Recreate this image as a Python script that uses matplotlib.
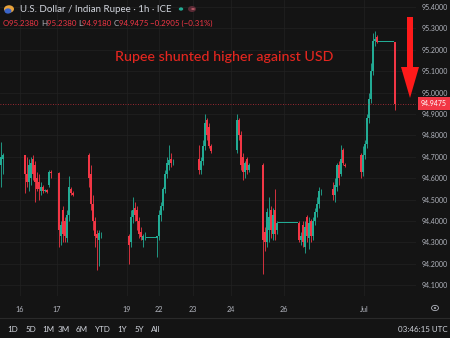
import numpy as np
import matplotlib.pyplot as plt
from matplotlib.patches import Polygon, Rectangle, Circle
from matplotlib.lines import Line2D

plt.rcParams['font.family'] = ['Lato', 'DejaVu Sans']

# hourly USD/INR candles (flat runs = hours with no trades)
opens = ([94.66, 94.69] + [94.708] * 10 +
         [94.708, 94.62, 94.58, 94.60, 94.69, 94.66, 94.60, 94.58, 94.54, 94.56, 94.54, 94.545, 94.57, 94.63] + [94.624] * 3 +
         [94.624, 94.33, 94.45, 94.40, 94.32, 94.43, 94.55, 94.53] + [94.521] * 7 +
         [94.71, 94.62, 94.48, 94.40, 94.34, 94.31, 94.33] + [94.33] * 13 +
         [94.33, 94.30, 94.42, 94.46, 94.45, 94.40, 94.35, 94.31, 94.32] + [94.321] * 5 +
         [94.32, 94.33, 94.43, 94.47, 94.55, 94.62, 94.66, 94.69, 94.67] + [94.671] * 12 +
         [94.69, 94.64, 94.68, 94.75, 94.87, 94.84, 94.75] + [94.727] * 12 +
         [94.73, 94.87, 94.80, 94.70, 94.63, 94.69, 94.64] + [94.662] * 6 +
         [94.662, 94.35, 94.30, 94.36, 94.45, 94.34, 94.45, 94.36] + [94.391] * 10 +
         [94.391, 94.31, 94.38, 94.28, 94.42, 94.32, 94.40, 94.33, 94.40, 94.44, 94.48, 94.53] + [94.531] * 5 +
         [94.55, 94.52, 94.56, 94.66, 94.62, 94.73, 94.66] + [94.657] * 7 +
         [94.71, 94.63, 94.71, 94.76, 94.88, 94.97, 95.10, 95.24, 95.26] + [95.238] * 8 +
         [95.238])
highs = ([94.77, 94.72] + [94.708] * 10 +
         [94.71, 94.70, 94.69, 94.70, 94.71, 94.68, 94.63, 94.62, 94.58, 94.57, 94.55, 94.55, 94.64, 94.64] + [94.624] * 3 +
         [94.63, 94.40, 94.47, 94.42, 94.45, 94.61, 94.56, 94.54] + [94.521] * 7 +
         [94.72, 94.66, 94.52, 94.42, 94.36, 94.36, 94.35] + [94.33] * 13 +
         [94.34, 94.45, 94.51, 94.49, 94.47, 94.42, 94.37, 94.34, 94.35] + [94.321] * 5 +
         [94.33, 94.45, 94.49, 94.56, 94.64, 94.70, 94.755, 94.72, 94.69] + [94.671] * 12 +
         [94.755, 94.70, 94.78, 94.90, 94.88, 94.86, 94.76] + [94.727] * 12 +
         [94.90, 94.88, 94.82, 94.72, 94.68, 94.70, 94.67] + [94.662] * 6 +
         [94.67, 94.37, 94.46, 94.51, 94.47, 94.46, 94.55, 94.40] + [94.391] * 10 +
         [94.40, 94.35, 94.40, 94.40, 94.43, 94.42, 94.41, 94.42, 94.46, 94.51, 94.56, 94.55] + [94.531] * 5 +
         [94.58, 94.60, 94.67, 94.68, 94.755, 94.74, 94.67] + [94.657] * 7 +
         [94.72, 94.75, 94.78, 94.90, 95.00, 95.14, 95.28, 95.29, 95.27] + [95.238] * 8 +
         [95.238])
lows = ([94.56, 94.62] + [94.708] * 10 +
        [94.53, 94.56, 94.54, 94.57, 94.59, 94.49, 94.54, 94.50, 94.52, 94.53, 94.535, 94.53, 94.56, 94.60] + [94.624] * 3 +
        [94.28, 94.29, 94.30, 94.30, 94.30, 94.40, 94.52, 94.515] + [94.521] * 7 +
        [94.56, 94.45, 94.36, 94.28, 94.17, 94.19, 94.32] + [94.33] * 13 +
        [94.20, 94.28, 94.39, 94.40, 94.36, 94.32, 94.31, 94.28, 94.31] + [94.321] * 5 +
        [94.23, 94.31, 94.40, 94.45, 94.53, 94.60, 94.64, 94.65, 94.66] + [94.671] * 12 +
        [94.62, 94.62, 94.66, 94.73, 94.78, 94.74, 94.72] + [94.727] * 12 +
        [94.72, 94.78, 94.64, 94.59, 94.60, 94.62, 94.63] + [94.662] * 6 +
        [94.15, 94.26, 94.28, 94.30, 94.32, 94.31, 94.31, 94.34] + [94.391] * 10 +
        [94.30, 94.29, 94.28, 94.25, 94.30, 94.27, 94.30, 94.31, 94.38, 94.42, 94.46, 94.52] + [94.531] * 5 +
        [94.50, 94.49, 94.54, 94.57, 94.61, 94.66, 94.65] + [94.657] * 7 +
        [94.60, 94.61, 94.69, 94.74, 94.86, 94.95, 95.08, 95.22, 95.23] + [95.238] * 8 +
        [94.918])
closes = ([94.70, 94.708] + [94.708] * 10 +
          [94.62, 94.58, 94.66, 94.67, 94.62, 94.58, 94.55, 94.55, 94.56, 94.54, 94.545, 94.536, 94.63, 94.624] + [94.624] * 3 +
          [94.36, 94.38, 94.34, 94.33, 94.43, 94.56, 94.53, 94.521] + [94.521] * 7 +
          [94.60, 94.48, 94.40, 94.33, 94.32, 94.345, 94.33] + [94.33] * 13 +
          [94.29, 94.42, 94.45, 94.43, 94.40, 94.34, 94.325, 94.33, 94.321] + [94.321] * 5 +
          [94.33, 94.43, 94.47, 94.55, 94.62, 94.67, 94.685, 94.67, 94.671] + [94.671] * 12 +
          [94.64, 94.68, 94.75, 94.86, 94.80, 94.75, 94.727] + [94.727] * 12 +
          [94.87, 94.80, 94.66, 94.63, 94.67, 94.64, 94.662] + [94.662] * 6 +
          [94.31, 94.30, 94.44, 94.42, 94.36, 94.43, 94.34, 94.391] + [94.391] * 10 +
          [94.31, 94.33, 94.30, 94.37, 94.33, 94.39, 94.33, 94.40, 94.44, 94.48, 94.54, 94.531] + [94.531] * 5 +
          [94.52, 94.57, 94.66, 94.60, 94.69, 94.67, 94.657] + [94.657] * 7 +
          [94.63, 94.71, 94.76, 94.88, 94.97, 95.10, 95.24, 95.25, 95.238] + [95.238] * 8 +
          [94.9475])

date_pos = [9.5, 28, 63, 79, 96, 115, 141.5, 181.5]
date_labels = ['16', '17', '19', '22', '23', '24', '26', 'Jul']
price_ticks = [94.1, 94.2, 94.3, 94.4, 94.5, 94.6, 94.7, 94.8, 94.9, 95.0, 95.1, 95.2, 95.3, 95.4]
last_price = 94.9475
ranges = ['1D', '5D', '1M', '3M', '6M', 'YTD', '1Y', '5Y', 'All']

BG = '#141414'
GREEN = '#22ab94'
RED = '#f23645'
TXT = '#b2b5be'
W, H = 450, 338


def fx(px):
    return px / W


def fy(py):
    return 1 - py / H


fig = plt.figure(figsize=(4.5, 3.38), dpi=100, facecolor=BG)
ax = fig.add_axes([0, 42 / H, 416 / W, 296 / H])
ax.set_facecolor(BG)

o = np.array(opens)
h = np.array(highs)
l = np.array(lows)
c = np.array(closes)
x = np.arange(len(c))
cols = np.where(c >= o, GREEN, RED)

ax.vlines(x, l, h, colors=cols, linewidth=0.6)
ax.bar(x, np.maximum(np.abs(c - o), 0.002), bottom=np.minimum(o, c),
       width=0.8, color=cols, linewidth=0)

ax.axhline(last_price, color=RED, lw=0.6, ls=(0, (1, 2)), alpha=0.8)

ax.set_xlim(-0.5, 207.5)
ax.set_ylim(95.4 - 289 / 214, 95.4 + 7 / 214)
ax.set_xticks(date_pos)
ax.set_xticklabels(date_labels)
ax.yaxis.tick_right()
ax.set_yticks(price_ticks)
ax.set_yticklabels(['%.4f' % p for p in price_ticks])
ax.tick_params(axis='x', length=0, pad=7, labelsize=5.2, labelcolor=TXT)
ax.tick_params(axis='y', length=0, pad=4, labelsize=5, labelcolor=TXT)
ax.grid(color='#222222', linewidth=0.5)
ax.set_axisbelow(True)
for s in ax.spines.values():
    s.set_visible(False)

# last price tag
fig.add_artist(Rectangle((fx(418), fy(110)), 32 / W, 13 / H, transform=fig.transFigure,
                         color=RED, lw=0))
fig.text(fx(434), fy(103.5), '%.4f' % last_price, color='white', fontsize=5,
         ha='center', va='center')

# big red arrow
arrow = [(407, 17), (413, 17), (413, 67), (419, 67), (410, 98), (401, 67), (407, 67)]
fig.add_artist(Polygon([(fx(a), fy(b)) for a, b in arrow], closed=True,
                       transform=fig.transFigure, color='#ff1a1a', lw=0))

fig.text(fx(224), fy(57), 'Rupee shunted higher against USD', color='#e3261f',
         fontsize=10.3, ha='center', va='center', fontweight='medium')

# header
fig.add_artist(Circle((fx(9), fy(9)), 5 / W, transform=fig.transFigure, color='#e8a33b', lw=0))
fig.add_artist(Circle((fx(8), fy(11)), 3.5 / W, transform=fig.transFigure, color='#3a64c8', lw=0))
fig.text(fx(20), fy(9), 'U.S. Dollar / Indian Rupee · 1h · ICE', color='#d1d4dc',
         fontsize=7, ha='left', va='center')
fig.add_artist(Circle((fx(181), fy(9)), 2.2 / W, transform=fig.transFigure, color=GREEN, lw=0))
fig.add_artist(Circle((fx(192), fy(9)), 4 / W, transform=fig.transFigure, color='#5a2a35', lw=0))
fig.text(fx(192), fy(9), '=', color='#f77c8a', fontsize=5, ha='center', va='center')

parts = [('O', RED), ('95.2380 ', RED), ('H', TXT), ('95.2380 ', RED), ('L', TXT),
         ('94.9180 ', RED), ('C', TXT), ('94.9475 ', RED), ('\u22120.2905 (\u22120.31%)', RED)]
t = fig.text(fx(3), fy(23), parts[0][0], color=parts[0][1], fontsize=5.7, ha='left', va='center')
for txt, col in parts[1:]:
    t = ax.annotate(txt, xy=(1, 0.5), xycoords=t, xytext=(0, 0), textcoords='offset points',
                    color=col, fontsize=5.7, ha='left', va='center', annotation_clip=False)

# bottom bar
fig.add_artist(Line2D([0, 1], [fy(318), fy(318)], transform=fig.transFigure, color='#2a2a2a', lw=0.8))
range_x = [13, 31, 48, 64, 82, 103, 122, 139, 156]
for rx, r in zip(range_x, ranges):
    fig.text(fx(rx), fy(329), r, color='#d1d4dc', fontsize=5.8, ha='center', va='center')
fig.text(fx(448), fy(329), '03:46:15 UTC', color='#d1d4dc', fontsize=5.8, ha='right', va='center')
fig.add_artist(Circle((fx(435), fy(308)), 3.5 / W, transform=fig.transFigure,
                      facecolor='none', edgecolor=TXT, lw=0.6))
fig.add_artist(Circle((fx(435), fy(308)), 1.2 / W, transform=fig.transFigure, color=TXT, lw=0))

fig.savefig('out.png', dpi=100, facecolor=BG)
